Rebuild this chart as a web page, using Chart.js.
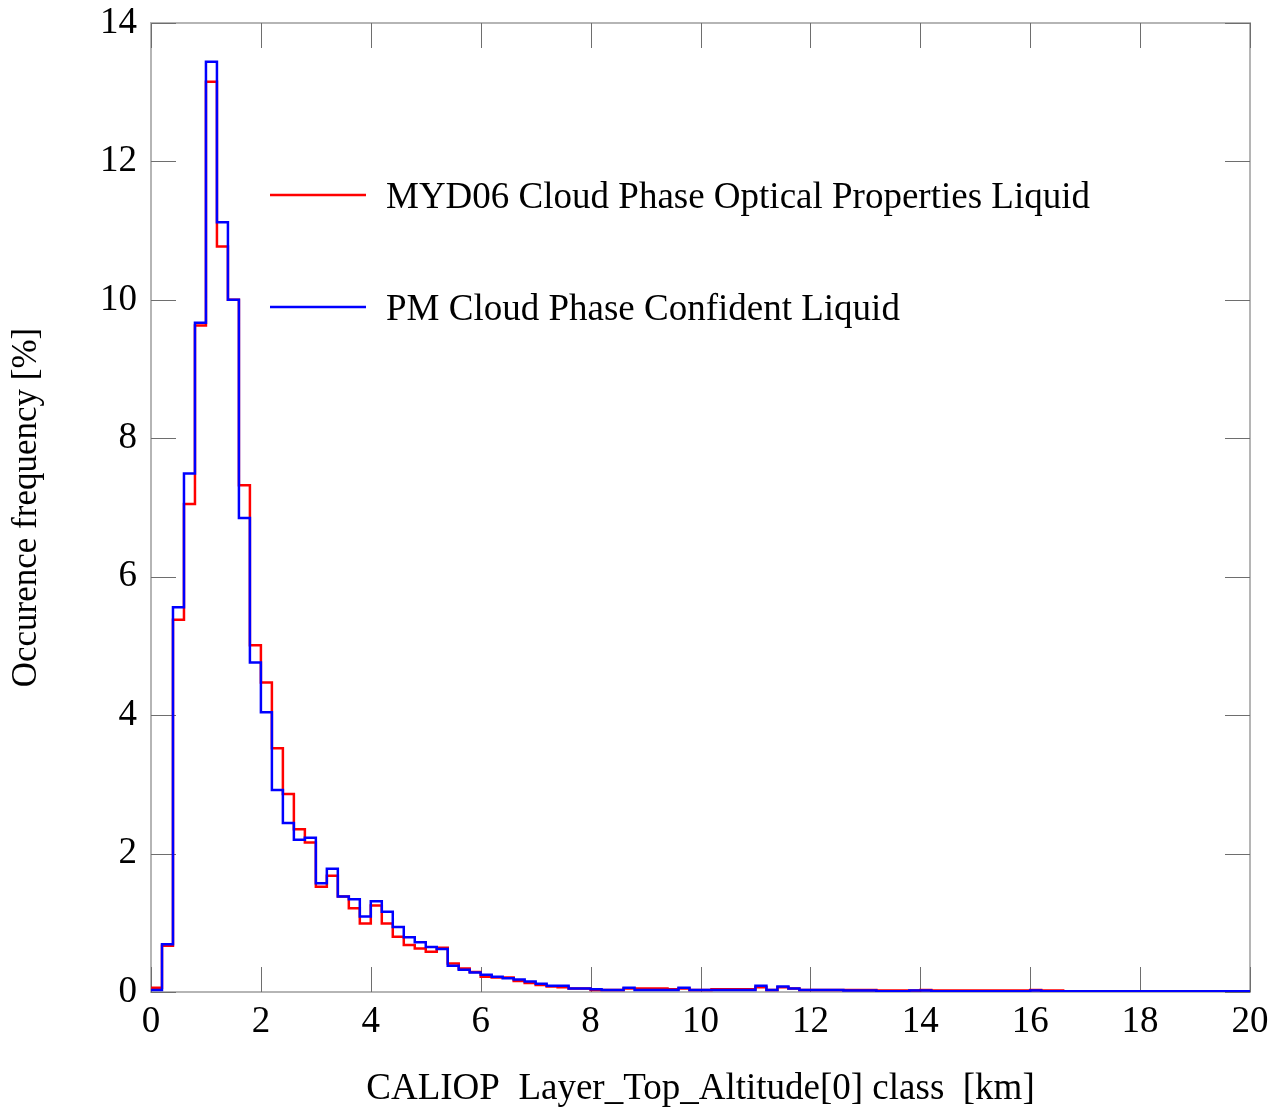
<!DOCTYPE html>
<html>
<head>
<meta charset="utf-8">
<script src="https://cdn.jsdelivr.net/npm/chart.js@4.4.1/dist/chart.umd.min.js"></script>
<style>
  body { margin: 0; background: #fff; }
</style>
</head>
<body>
<canvas id="chart" width="1270" height="1114"></canvas>
<script>
// histogram of layer top altitude, bins of 0.2 km from 0 to 20 km
const binWidth = 0.2;
const xTicks = [0, 2, 4, 6, 8, 10, 12, 14, 16, 18, 20];
const yTicks = [0, 2, 4, 6, 8, 10, 12, 14];

const myd06Liquid = [
  0.06, 0.67, 5.38, 7.05, 9.63, 13.15, 10.77, 10.0, 7.32, 5.01,
  4.47, 3.52, 2.86, 2.35, 2.16, 1.52, 1.68, 1.38, 1.21, 0.99,
  1.25, 0.99, 0.80, 0.68, 0.63, 0.58, 0.64, 0.41, 0.34, 0.29,
  0.22, 0.21, 0.21, 0.16, 0.13, 0.10, 0.08, 0.07, 0.05, 0.05,
  0.03, 0.03, 0.03, 0.05, 0.05, 0.05, 0.05, 0.04, 0.05, 0.03,
  0.03, 0.04, 0.04, 0.04, 0.04, 0.07, 0.03, 0.07, 0.05, 0.03,
  0.03, 0.03, 0.03, 0.03, 0.03, 0.03, 0.02, 0.02, 0.02, 0.02,
  0.03, 0.02, 0.02, 0.02, 0.02, 0.02, 0.02, 0.02, 0.02, 0.02,
  0.03, 0.02, 0.02, 0.01, 0.01, 0.01, 0.01, 0.01, 0.01, 0.01,
  0.01, 0.01, 0.01, 0.01, 0.01, 0.01, 0.01, 0.01, 0.01, 0.01
];

const pmLiquid = [
  0.03, 0.69, 5.56, 7.49, 9.67, 13.44, 11.12, 10.0, 6.85, 4.76,
  4.04, 2.92, 2.44, 2.20, 2.23, 1.57, 1.78, 1.38, 1.34, 1.09,
  1.31, 1.16, 0.94, 0.79, 0.72, 0.65, 0.62, 0.38, 0.32, 0.28,
  0.25, 0.22, 0.20, 0.18, 0.15, 0.12, 0.09, 0.09, 0.05, 0.05,
  0.04, 0.03, 0.03, 0.06, 0.03, 0.03, 0.03, 0.03, 0.06, 0.03,
  0.03, 0.03, 0.03, 0.03, 0.03, 0.09, 0.03, 0.08, 0.05, 0.03,
  0.03, 0.03, 0.03, 0.02, 0.02, 0.02, 0.01, 0.01, 0.01, 0.02,
  0.02, 0.01, 0.01, 0.01, 0.01, 0.01, 0.01, 0.01, 0.01, 0.01,
  0.02, 0.01, 0.01, 0.01, 0.01, 0.01, 0.01, 0.01, 0.01, 0.01,
  0.01, 0.01, 0.01, 0.01, 0.01, 0.01, 0.01, 0.01, 0.01, 0.01
];

const seriesLabels = [
  "MYD06 Cloud Phase Optical Properties Liquid",
  "PM Cloud Phase Confident Liquid"
];

// points at left bin edges, last value held to the right edge
function toSteps(values) {
  const pts = values.map((v, i) => ({ x: +(i * binWidth).toFixed(1), y: v }));
  pts.push({ x: +(values.length * binWidth).toFixed(1), y: values[values.length - 1] });
  return pts;
}

const serif = '"Liberation Serif", "DejaVu Serif", serif';
Chart.defaults.font.family = serif;
Chart.defaults.color = "#000";

// frame + inward ticks on all four sides
const framePlugin = {
  id: "frame",
  beforeDatasetsDraw(chart) {
    const { ctx, chartArea: a, scales } = chart;
    ctx.save();
    ctx.strokeStyle = "#b5b5b5";
    ctx.lineWidth = 2;
    ctx.strokeRect(a.left, a.top, a.right - a.left, a.bottom - a.top);
    ctx.strokeStyle = "#6e6e6e";
    ctx.lineWidth = 1;
    const len = 25;
    ctx.beginPath();
    xTicks.forEach(v => {
      const px = Math.round(scales.x.getPixelForValue(v)) + 0.5;
      ctx.moveTo(px, a.bottom); ctx.lineTo(px, a.bottom - len);
      ctx.moveTo(px, a.top); ctx.lineTo(px, a.top + len);
    });
    yTicks.forEach(v => {
      const py = Math.round(scales.y.getPixelForValue(v)) + 0.5;
      ctx.moveTo(a.left, py); ctx.lineTo(a.left + len, py);
      ctx.moveTo(a.right, py); ctx.lineTo(a.right - len, py);
    });
    ctx.stroke();
    ctx.restore();
  }
};

const legendPlugin = {
  id: "insideLegend",
  afterDraw(chart) {
    const { ctx, chartArea: a } = chart;
    const colors = ["#ff0000", "#0000ff"];
    ctx.save();
    ctx.font = "37px " + serif;
    ctx.textBaseline = "alphabetic";
    ctx.fillStyle = "#000";
    seriesLabels.forEach((lab, i) => {
      const y = a.top + 172 + i * 112;
      ctx.strokeStyle = colors[i];
      ctx.lineWidth = 2.5;
      ctx.beginPath();
      ctx.moveTo(a.left + 119, y);
      ctx.lineTo(a.left + 215, y);
      ctx.stroke();
      ctx.fillText(lab, a.left + 235, y + 13);
    });
    ctx.restore();
  }
};

new Chart(document.getElementById("chart"), {
  type: "line",
  data: {
    datasets: [
      {
        label: seriesLabels[0],
        data: toSteps(myd06Liquid),
        borderColor: "#ff0000",
        borderWidth: 2.5,
        stepped: "before",
        pointRadius: 0,
        fill: false,
        order: 1,
      },
      {
        label: seriesLabels[1],
        data: toSteps(pmLiquid),
        borderColor: "#0000ff",
        borderWidth: 2.5,
        stepped: "before",
        pointRadius: 0,
        fill: false,
        order: 0,
      },
    ],
  },
  options: {
    responsive: false,
    animation: false,
    layout: { padding: { left: 0, right: 20, top: 23, bottom: 0 } },
    plugins: {
      legend: { display: false },
      tooltip: { enabled: false },
    },
    scales: {
      x: {
        type: "linear",
        min: 0,
        max: 20,
        afterBuildTicks: s => { s.ticks = xTicks.map(v => ({ value: v })); },
        afterFit: s => { s.height = 122; s.paddingLeft = 0; s.paddingRight = 0; },
        grid: { display: false, drawTicks: false },
        border: { display: false },
        ticks: { font: { size: 37 }, padding: 8, maxRotation: 0 },
        title: {
          display: true,
          text: "CALIOP  Layer_Top_Altitude[0] class  [km]",
          font: { size: 37 },
          padding: { top: 0, bottom: 3 },
        },
      },
      y: {
        type: "linear",
        min: 0,
        max: 14,
        afterBuildTicks: s => { s.ticks = yTicks.map(v => ({ value: v })); },
        afterFit: s => { s.width = 151; s.paddingTop = 0; s.paddingBottom = 0; },
        grid: { display: false, drawTicks: false },
        border: { display: false },
        ticks: { font: { size: 37 }, padding: 14 },
        title: {
          display: true,
          text: "Occurence frequency [%]",
          font: { size: 35 },
          padding: { top: 6, bottom: 0 },
        },
      },
    },
  },
  plugins: [framePlugin, legendPlugin],
});
</script>
</body>
</html>
